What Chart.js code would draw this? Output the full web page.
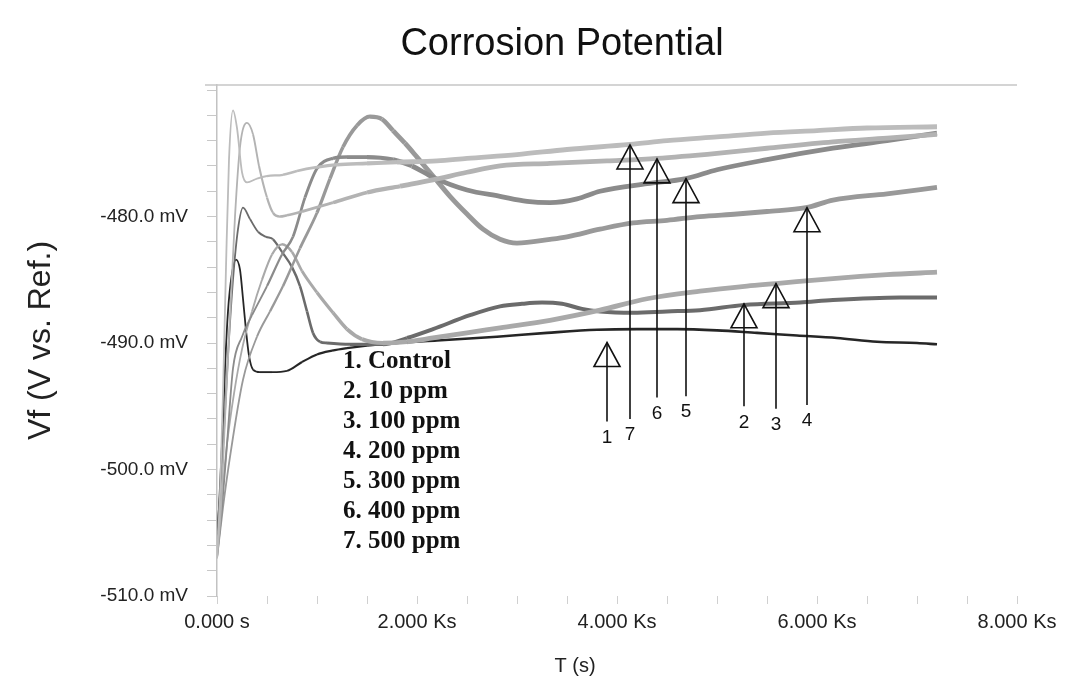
<!DOCTYPE html>
<html>
<head>
<meta charset="utf-8">
<script src="https://cdn.jsdelivr.net/npm/chart.js@4.4.1/dist/chart.umd.min.js"></script>
<style>
html,body{margin:0;padding:0;background:#fff;}
canvas{display:block;}
</style>
</head>
<body>
<canvas id="c" width="1092" height="689"></canvas>
<script>
// ---------- text ----------
const chartTitle = 'Corrosion Potential';
const xTitle = 'T (s)';
const yTitle = 'Vf (V vs. Ref.)';
const seriesNames = ['1. Control', '2. 10 ppm', '3. 100 ppm', '4. 200 ppm', '5. 300 ppm', '6. 400 ppm', '7. 500 ppm'];

// ---------- axes ----------
const xMin = 0, xMax = 8000, xMinorStep = 500;
const xMajorTicks = [0, 2000, 4000, 6000, 8000];
const yMin = -510, yMax = -469.6, yMinorStep = 2;
const yMajorTicks = [-510, -500, -490, -480];

// ---------- data: time (s) and potential (mV) ----------
const t1 = [0, 20, 50, 80, 110, 150, 190, 230, 260, 290, 320, 360, 430, 550, 700, 850, 1000, 1150, 1300, 1500, 1800, 2200, 2800, 3300, 3800, 4200, 4600, 5000, 5400, 5800, 6200, 6600, 7000, 7200];
const v1 = [-505.5, -503, -498, -492, -487.5, -484.5, -483.4, -484.2, -486.5, -489, -491, -492.1, -492.3, -492.3, -492.2, -491.5, -490.9, -490.6, -490.4, -490.2, -490.0, -489.8, -489.5, -489.2, -488.95, -488.9, -488.9, -489.0, -489.2, -489.4, -489.6, -489.9, -490.0, -490.1];

const t2 = [0, 30, 70, 110, 160, 210, 260, 330, 410, 490, 560, 650, 750, 830, 900, 960, 1030, 1100, 1330, 1660, 1900, 2160, 2530, 2830, 3050, 3250, 3450, 3650, 3830, 4160, 4500, 4830, 5270, 5830, 6160, 6830, 7200];
const v2 = [-505, -502, -497, -491, -485, -481, -479.3, -480.2, -481.2, -481.6, -481.8, -482.8, -484, -485.5, -487.5, -489.2, -489.9, -490.0, -490.1, -490.1, -489.6, -488.9, -487.8, -487.1, -486.9, -486.8, -486.9, -487.3, -487.5, -487.6, -487.5, -487.4, -487.0, -486.8, -486.6, -486.4, -486.4];

const t3 = [0, 40, 100, 170, 250, 350, 450, 550, 650, 750, 850, 1000, 1160, 1300, 1450, 1660, 1900, 2160, 2500, 2830, 3330, 3830, 4300, 4830, 5300, 5590, 6160, 6700, 7200];
const v3 = [-506, -503, -498, -494, -490.5, -487.5, -485, -483, -482.2, -482.8, -484.3, -486.0, -487.6, -488.9, -489.7, -490.0, -489.9, -489.6, -489.2, -488.8, -488.2, -487.4, -486.5, -485.9, -485.5, -485.3, -484.9, -484.6, -484.4];

const t4 = [0, 60, 130, 260, 400, 530, 660, 830, 1000, 1130, 1260, 1400, 1530, 1650, 1760, 1880, 2000, 2160, 2330, 2500, 2660, 2830, 3000, 3330, 3500, 3830, 4160, 4500, 4830, 5200, 5500, 5890, 6160, 6700, 7200];
const v4 = [-507, -503, -499, -492.9, -489.5, -487.5, -485.5, -482.5, -479.7, -477, -474.5, -472.8, -472.1, -472.3, -473.2, -474.2, -475.3, -476.8, -478.4, -479.8, -481.0, -481.8, -482.1, -481.8, -481.6, -481.0, -480.5, -480.3, -480.0, -479.8, -479.6, -479.3, -478.7, -478.2, -477.7];

const t5 = [0, 50, 100, 160, 250, 350, 500, 650, 760, 880, 1000, 1160, 1300, 1500, 1760, 1950, 2160, 2500, 2830, 3100, 3330, 3600, 3830, 4300, 4690, 5000, 5500, 6160, 6700, 7200];
const v5 = [-507, -503, -498, -492, -489.5, -487.8, -485.5, -483, -481.6, -478.5, -476.2, -475.4, -475.3, -475.3, -475.5, -476.0, -476.9, -477.9, -478.4, -478.8, -478.9, -478.6, -478.0, -477.4, -477.0, -476.3, -475.5, -474.6, -474.0, -473.4];

const t6 = [0, 40, 80, 130, 180, 230, 300, 360, 420, 500, 560, 630, 700, 850, 1160, 1500, 1830, 2160, 2500, 2830, 3330, 3900, 4400, 5000, 5500, 6160, 6700, 7200];
const v6 = [-507, -503, -496, -488, -480, -474.5, -472.6, -473.5, -476, -478.5, -479.7, -480.0, -479.9, -479.6, -478.9, -478.1, -477.6, -477.1, -476.5, -476.0, -475.8, -475.6, -475.4, -475.0, -474.6, -474.1, -473.8, -473.5];

const t7 = [0, 30, 60, 90, 120, 160, 200, 250, 300, 400, 500, 660, 800, 1000, 1200, 1500, 1800, 2200, 2500, 3000, 3500, 4130, 4500, 5000, 5500, 6000, 6500, 7200];
const v7 = [-507, -502, -494, -484, -475.5, -471.6, -473, -476.5, -477.3, -477.0, -476.8, -476.7, -476.4, -476.1, -475.9, -475.8, -475.7, -475.6, -475.4, -475.1, -474.7, -474.3, -474.0, -473.7, -473.4, -473.2, -473.0, -472.9];

// ---------- arrow call-outs (label, time, tip potential, foot potential) ----------
const arrowLabels = ['1', '7', '6', '5', '2', '3', '4'];
const arrowT = [3900, 4130, 4400, 4690, 5270, 5590, 5900];
const arrowTipV = [-489.96, -474.34, -475.44, -477.0, -486.9, -485.3, -479.3];
const arrowFootV = [-496.2, -496.0, -494.3, -494.2, -495.0, -495.2, -494.9];

// ---------- styles ----------
const colors = ['#262626', '#6b6b6b', '#a9a9a9', '#999999', '#8b8b8b', '#b3b3b3', '#bcbcbc'];
const earlyWidth = [1.8, 1.8, 1.8, 1.8, 1.8, 1.8, 1.8];
const lateWidth = [2.6, 4.0, 4.8, 4.8, 4.8, 4.8, 4.8];

const ts = [t1, t2, t3, t4, t5, t6, t7];
const vs = [v1, v2, v3, v4, v5, v6, v7];

const datasets = ts.map((t, i) => ({
  label: seriesNames[i],
  data: t.map((tv, k) => ({ x: tv, y: vs[i][k] })),
  borderColor: colors[i],
  borderWidth: lateWidth[i],
  pointRadius: 0,
  fill: false,
  cubicInterpolationMode: 'monotone',
  segment: {
    borderWidth: ctx => {
      const f = Math.min(1, Math.max(0, (ctx.p0.parsed.x - 300) / 1500));
      return earlyWidth[i] + (lateWidth[i] - earlyWidth[i]) * f;
    }
  }
})).reverse();

const SANS = '"Liberation Sans", Arial, sans-serif';

const decor = {
  id: 'decor',
  afterDraw(chart) {
    const { ctx, chartArea, scales: { x, y } } = chart;
    ctx.save();
    // top frame line
    ctx.strokeStyle = '#c6c6c6';
    ctx.lineWidth = 1.5;
    ctx.beginPath();
    ctx.moveTo(chartArea.left - 12, chartArea.top);
    ctx.lineTo(chartArea.right, chartArea.top);
    ctx.stroke();

    // title
    ctx.fillStyle = '#111';
    ctx.font = '38px ' + SANS;
    ctx.textAlign = 'center';
    ctx.textBaseline = 'middle';
    ctx.fillText(chartTitle, 562, 45);

    // x axis title
    ctx.font = '20px ' + SANS;
    ctx.fillStyle = '#222';
    ctx.fillText(xTitle, 575, 666);

    // arrows
    ctx.strokeStyle = '#111';
    ctx.fillStyle = '#111';
    ctx.lineWidth = 1.6;
    ctx.font = '19px ' + SANS;
    arrowLabels.forEach((lab, i) => {
      const px = x.getPixelForValue(arrowT[i]);
      const tip = y.getPixelForValue(arrowTipV[i]);
      const foot = y.getPixelForValue(arrowFootV[i]);
      ctx.beginPath();
      ctx.moveTo(px, tip);
      ctx.lineTo(px, foot);
      ctx.stroke();
      ctx.beginPath();
      ctx.moveTo(px, tip);
      ctx.lineTo(px - 13, tip + 24);
      ctx.lineTo(px + 13, tip + 24);
      ctx.closePath();
      ctx.stroke();
      ctx.fillText(lab, px, foot + 16);
    });

    // series legend text
    ctx.font = 'bold 25px "Liberation Serif", "Times New Roman", serif';
    ctx.textAlign = 'left';
    ctx.fillStyle = '#111';
    seriesNames.forEach((s, i) => {
      ctx.fillText(s, chartArea.left + 126, chartArea.top + 277 + 30 * i);
    });
    ctx.restore();
  }
};

function rangeTicks(min, max, step) {
  const out = [];
  for (let v = min; v <= max + 1e-9; v += step) out.push({ value: Math.round(v * 1000) / 1000 });
  return out;
}

new Chart(document.getElementById('c'), {
  type: 'line',
  data: { datasets },
  options: {
    responsive: false,
    animation: false,
    devicePixelRatio: 1,
    layout: { padding: { top: 85, right: 75, bottom: 0, left: 0 } },
    plugins: {
      legend: { display: false },
      title: { display: false },
      tooltip: { enabled: false }
    },
    scales: {
      x: {
        type: 'linear',
        min: xMin,
        max: xMax,
        afterBuildTicks: s => { s.ticks = rangeTicks(xMin, xMax, xMinorStep); },
        afterFit: s => { s.height = 93; },
        border: { display: false },
        grid: { drawOnChartArea: false, drawTicks: true, tickLength: 8, tickColor: '#d0d0d0' },
        ticks: {
          autoSkip: false,
          maxRotation: 0,
          padding: 6,
          color: '#222',
          font: { family: SANS, size: 20 },
          callback: v => (xMajorTicks.includes(v) ? (v === 0 ? '0.000 s' : (v / 1000).toFixed(3) + ' Ks') : '')
        }
      },
      y: {
        min: yMin,
        max: yMax,
        afterBuildTicks: s => { s.ticks = rangeTicks(yMin, -470, yMinorStep); },
        afterFit: s => { s.width = 217; },
        border: { display: true, color: '#c2c2c2', width: 1.5 },
        grid: { drawOnChartArea: false, drawTicks: true, tickLength: 10, tickColor: '#c8c8c8' },
        title: {
          display: true,
          text: yTitle,
          color: '#222',
          font: { family: SANS, size: 32 },
          padding: { top: 22, bottom: 0 }
        },
        ticks: {
          autoSkip: false,
          padding: 19,
          color: '#222',
          font: { family: SANS, size: 19 },
          callback: v => (yMajorTicks.includes(v) ? v.toFixed(1) + ' mV' : '')
        }
      }
    }
  },
  plugins: [decor]
});
</script>
</body>
</html>
